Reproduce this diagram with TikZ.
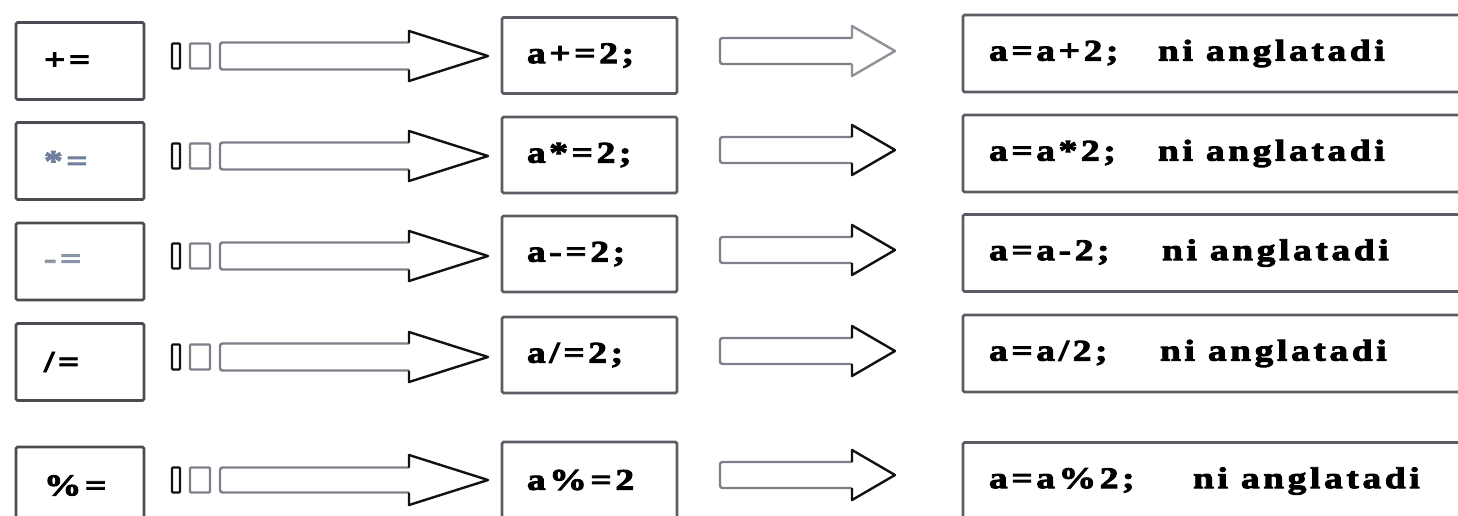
\documentclass[tikz,border=0pt]{standalone}
\usepackage{fontspec}
\newfontfamily\boxfont{Liberation Serif}[LetterSpace=12, FakeStretch=1.25, BoldFeatures={FakeBold=3}]
\usetikzlibrary{calc}
\definecolor{boxgray}{HTML}{5A5E64}
\definecolor{lboxgray}{HTML}{4A4D52}
\definecolor{bodygray}{HTML}{7C8088}
\definecolor{headblack}{HTML}{111111}
\definecolor{headgray}{HTML}{8E9298}
\definecolor{stargray}{HTML}{6F7F9C}
\definecolor{minusgray}{HTML}{8A95A8}
\newcommand\blockarrow[6]{% start, end, head length, body half, head half, head colour
  \draw[bodyline] ($(#2)+(-#3,-#4)$) -- ($(#1)+(0,-#4)$) -- ($(#1)+(0,#4)$) -- ($(#2)+(-#3,#4)$);
  \draw[headline,draw=#6] ($(#2)+(-#3,-#4)$) -- ($(#2)+(-#3,-#5)$) -- (#2) -- ($(#2)+(-#3,#5)$) -- ($(#2)+(-#3,#4)$);
}
\newcommand\tailmarks[1]{% small bracket and square before a first arrow
  \draw[line width=2.4pt, draw=headblack, rounded corners=1pt] ($(#1)+(-48,-12.5)$) rectangle ($(#1)+(-40,12.5)$);
  \draw[line width=2.2pt, draw=bodygray, rounded corners=1pt] ($(#1)+(-30,-12.5)$) rectangle ($(#1)+(-10,12.5)$);
}
\newcommand\niangl{ni\hspace{3pt} anglatadi}
\begin{document}
\begin{tikzpicture}[x=1pt,y=-1pt,
  box/.style={draw=boxgray, line width=2.6pt, rounded corners=1.5pt, minimum height=77pt,
    inner ysep=0pt, align=left, text=black,
    font=\boxfont\bfseries\fontsize{30}{32}\selectfont},
  lbox/.style={box, draw=lboxgray, minimum width=128pt, text width=72pt, inner xsep=28pt},
  mbox/.style={box, minimum width=175pt, text width=125pt, inner xsep=25pt, minimum height=76pt},
  rbox/.style={box, minimum width=512pt, text width=460pt, inner xsep=26pt},
  bodyline/.style={draw=bodygray, line width=2.4pt, rounded corners=2.5pt},
  headline/.style={line width=2.4pt, line join=round},
]
\useasboundingbox (0,0) rectangle (1458,515);
\clip (0,0) rectangle (1458,515);

% row 1
\node[lbox] (l1) at (80,61) {+=};
\node[mbox] (m1) at (589.5,55.5) {a+=2;};
\node[rbox] (r1) at (1219,53.5) {\makebox[169pt][l]{a=a+2;}\niangl};
% row 2
\node[lbox, text=stargray] (l2) at (80,161) {*=};
\node[mbox] (m2) at (589.5,155) {a*=2;};
\node[rbox] (r2) at (1219,153.5) {\makebox[169pt][l]{a=a*2;}\niangl};
% row 3
\node[lbox, text=minusgray] (l3) at (80,261.5) {-=};
\node[mbox] (m3) at (589.5,254) {a-=2;};
\node[rbox] (r3) at (1219,253) {\makebox[173pt][l]{a=a-2;}\niangl};
% row 4
\node[lbox] (l4) at (80,362) {/=};
\node[mbox] (m4) at (589.5,355) {a/=2;};
\node[rbox] (r4) at (1219,353.5) {\makebox[171pt][l]{a=a/2;}\niangl};
% row 5
\node[lbox] (l5) at (80,485.5) {\%=};
\node[mbox] (m5) at (589.5,480) {a\%=2};
\node[rbox] (r5) at (1219,481) {\makebox[204pt][l]{a=a\%2;}\niangl};

% arrow end points
\coordinate (a1s) at (220,56);  \coordinate (a1e) at (488,56);
\coordinate (b1s) at (720,51);  \coordinate (b1e) at (895,51);
\coordinate (a2s) at (220,156); \coordinate (a2e) at (488,156);
\coordinate (b2s) at (720,150); \coordinate (b2e) at (895,150);
\coordinate (a3s) at (220,256); \coordinate (a3e) at (488,256);
\coordinate (b3s) at (720,250); \coordinate (b3e) at (895,250);
\coordinate (a4s) at (220,357); \coordinate (a4e) at (488,357);
\coordinate (b4s) at (720,351); \coordinate (b4e) at (895,351);
\coordinate (a5s) at (220,480); \coordinate (a5e) at (488,480);
\coordinate (b5s) at (720,475); \coordinate (b5e) at (895,475);

\blockarrow{a1s}{a1e}{79}{13.5}{25}{headblack}
\blockarrow{b1s}{b1e}{43}{13}{25}{headgray}
\blockarrow{a2s}{a2e}{79}{13.5}{25}{headblack}
\blockarrow{b2s}{b2e}{43}{13}{25}{headblack}
\blockarrow{a3s}{a3e}{79}{13.5}{25}{headblack}
\blockarrow{b3s}{b3e}{43}{13}{25}{headblack}
\blockarrow{a4s}{a4e}{79}{13.5}{25}{headblack}
\blockarrow{b4s}{b4e}{43}{13}{25}{headblack}
\blockarrow{a5s}{a5e}{79}{12.5}{25}{headblack}
\blockarrow{b5s}{b5e}{43}{13}{25}{headblack}

\tailmarks{a1s}
\tailmarks{a2s}
\tailmarks{a3s}
\tailmarks{a4s}
\tailmarks{a5s}
\end{tikzpicture}
\end{document}
